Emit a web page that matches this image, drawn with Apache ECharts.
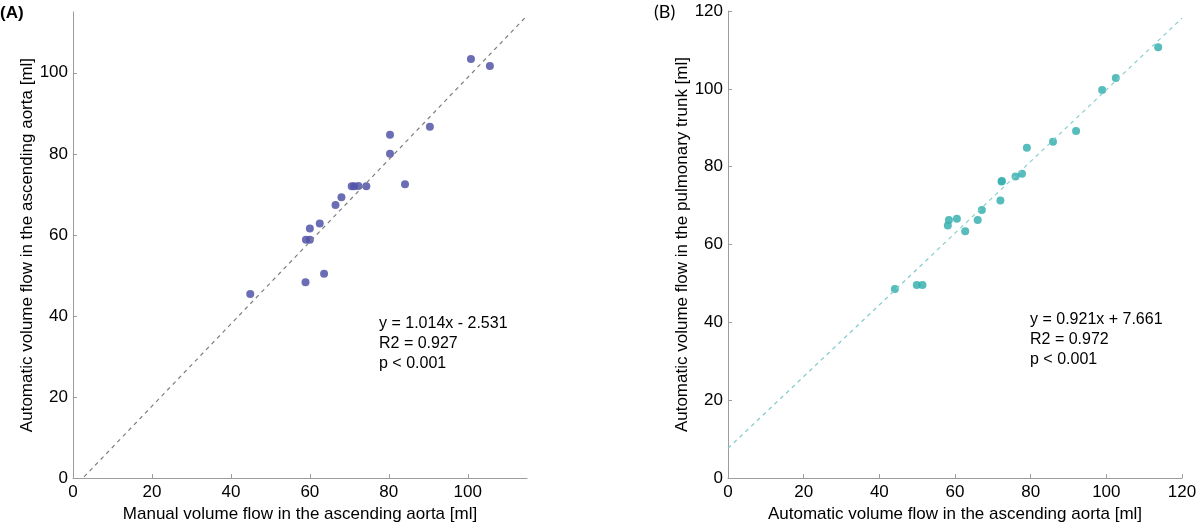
<!DOCTYPE html>
<html>
<head>
<meta charset="utf-8">
<script src="https://cdn.jsdelivr.net/npm/echarts@6/dist/echarts.min.js"></script>
<style>html,body{margin:0;padding:0;background:#fff}#c{width:1200px;height:528px}</style>
</head>
<body>
<div id="c"></div>
<script>
// ---- Panel A data: manual vs automatic volume flow (ascending aorta) ----
const aManual = [44.9, 58.9, 63.6, 59.0, 60.0, 60.0, 62.5, 66.5, 68.0, 70.6, 71.2, 72.3, 74.3, 84.1, 80.3, 80.3, 90.4, 100.8, 105.6];
const aAuto   = [45.4, 48.3, 50.4, 58.8, 58.8, 61.6, 62.8, 67.4, 69.3, 72.0, 72.0, 72.1, 72.0, 72.5, 80.0, 84.7, 86.7, 103.4, 101.7];
const fitA = [1.014, -2.531]; // slope, intercept
const textA = ["y = 1.014x - 2.531", "R2 = 0.927", "p < 0.001"];
const ticksA = [0, 20, 40, 60, 80, 100];
const rangeA = [0, 115];

// ---- Panel B data: automatic ascending aorta vs automatic pulmonary trunk ----
const bAorta = [44.1, 49.9, 51.4, 58.1, 58.4, 60.5, 62.7, 66.0, 67.1, 72.0, 72.3, 72.4, 76.0, 77.7, 79.0, 85.9, 92.0, 98.9, 102.5, 113.7];
const bTrunk = [48.6, 49.6, 49.6, 64.9, 66.3, 66.6, 63.4, 66.3, 68.9, 71.3, 76.2, 76.3, 77.5, 78.2, 84.9, 86.4, 89.2, 99.7, 102.8, 110.7];
const fitB = [0.921, 7.661];
const textB = ["y = 0.921x + 7.661", "R2 = 0.972", "p < 0.001"];
const ticksB = [0, 20, 40, 60, 80, 100, 120];
const rangeB = [0, 120];

const xNameA = "Manual volume flow in the ascending aorta [ml]";
const yNameA = "Automatic volume flow in the ascending aorta [ml]";
const xNameB = "Automatic volume flow in the ascending aorta [ml]";
const yNameB = "Automatic volume flow in the pulmonary trunk [ml]";

const FONT = "'Liberation Sans', Arial, Helvetica, sans-serif";
const zip = (xs, ys) => xs.map((x, i) => [x, ys[i]]);
const fitLine = (f, r) => [[r[0], f[0] * r[0] + f[1]], [r[1], f[0] * r[1] + f[1]]];

function xAxis(idx, range, ticks, name) {
  return {
    gridIndex: idx, type: 'value', min: range[0], max: range[1], interval: 20,
    name: name, nameLocation: 'middle', nameGap: 26,
    nameTextStyle: { color: '#000', fontSize: 17, fontFamily: FONT },
    axisLine: { lineStyle: { color: '#9c9c9c', width: 1 } },
    axisTick: { inside: true, length: 4, customValues: ticks, lineStyle: { color: '#9c9c9c' } },
    axisLabel: { customValues: ticks, color: '#000', fontSize: 17, fontFamily: FONT, margin: 6 },
    splitLine: { show: false }
  };
}
function yAxis(idx, range, ticks, name) {
  return {
    gridIndex: idx, type: 'value', min: range[0], max: range[1], interval: 20,
    name: name, nameLocation: 'middle', nameGap: 33,
    nameTextStyle: { color: '#000', fontSize: 17, fontFamily: FONT },
    axisLine: { show: true, lineStyle: { color: '#9c9c9c', width: 1 } },
    axisTick: { show: true, inside: true, length: 4, customValues: ticks, lineStyle: { color: '#9c9c9c' } },
    axisLabel: { customValues: ticks, color: '#000', fontSize: 17, fontFamily: FONT, margin: 5 },
    splitLine: { show: false }
  };
}

const chart = echarts.init(document.getElementById('c'), null, { renderer: 'canvas' });
chart.setOption({
  animation: false,
  backgroundColor: '#fff',
  grid: [
    { left: 73, top: 12, width: 454, bottom: 47 },
    { left: 728, top: 11, width: 454, bottom: 47 }
  ],
  xAxis: [xAxis(0, rangeA, ticksA, xNameA), xAxis(1, rangeB, ticksB, xNameB)],
  yAxis: [yAxis(0, rangeA, ticksA, yNameA), yAxis(1, rangeB, ticksB, yNameB)],
  series: [
    {
      type: 'line', xAxisIndex: 0, yAxisIndex: 0, data: fitLine(fitA, rangeA),
      symbol: 'none', clip: true, silent: true,
      lineStyle: { color: '#7e7e7e', width: 1.2, type: [4, 4] }
    },
    {
      type: 'scatter', xAxisIndex: 0, yAxisIndex: 0, data: zip(aManual, aAuto),
      symbolSize: 8, itemStyle: { color: '#5155a8', opacity: 0.85 }
    },
    {
      type: 'line', xAxisIndex: 1, yAxisIndex: 1, data: fitLine(fitB, rangeB),
      symbol: 'none', clip: true, silent: true,
      lineStyle: { color: '#84cccc', width: 1.2, type: [4, 4] }
    },
    {
      type: 'scatter', xAxisIndex: 1, yAxisIndex: 1, data: zip(bAorta, bTrunk),
      symbolSize: 8, itemStyle: { color: '#39b0b0', opacity: 0.85 }
    }
  ],
  graphic: [
    { type: 'text', left: 0, top: 5, style: { text: '(A)', font: "bold 17px " + FONT, fill: '#000' } },
    { type: 'text', left: 654, top: 3, style: { text: '(B)', font: "18px Lato, 'Open Sans', sans-serif", fill: '#000' } },
    { type: 'text', left: 379, top: 314, style: { text: textA.join('\n'), font: "16px " + FONT, lineHeight: 20, fill: '#000' } },
    { type: 'text', left: 1030, top: 310, style: { text: textB.join('\n'), font: "16px " + FONT, lineHeight: 20, fill: '#000' } }
  ]
});
</script>
</body>
</html>
